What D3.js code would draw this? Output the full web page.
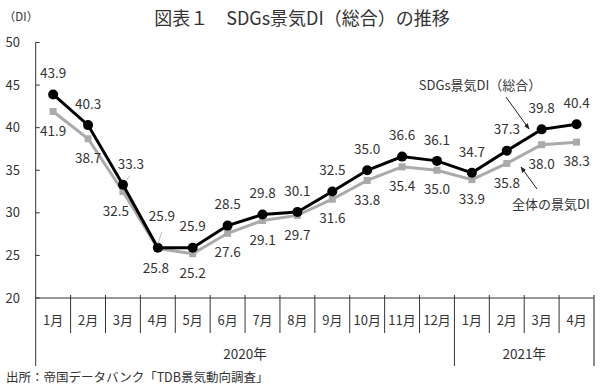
<!DOCTYPE html>
<html>
<head>
<meta charset="utf-8">
<script src="https://cdn.jsdelivr.net/npm/d3@7"></script>
<style>
  body { margin: 0; background: #fff; }
  text { font-family: "Noto Sans CJK JP", "Noto Sans", sans-serif; fill: #333; }
</style>
</head>
<body>
<div id="chart"></div>
<script>
// Chart data
const months = ["1月", "2月", "3月", "4月", "5月", "6月", "7月", "8月", "9月", "10月", "11月", "12月", "1月", "2月", "3月", "4月"];
const yearLabels = ["2020年", "2021年"];
const yearMonthCounts = [12, 4];
const sdgsDI = [43.9, 40.3, 33.3, 25.9, 25.9, 28.5, 29.8, 30.1, 32.5, 35.0, 36.6, 36.1, 34.7, 37.3, 39.8, 40.4];
const overallDI = [41.9, 38.7, 32.5, 25.8, 25.2, 27.6, 29.1, 29.7, 31.6, 33.8, 35.4, 35.0, 33.9, 35.8, 38.0, 38.3];
const yTicks = [20, 25, 30, 35, 40, 45, 50];

// Label nudges for crowded points (index -> [dx, dy])
const sdgsNudge = { 2: [8, 1], 3: [4, -10] };
const overallNudge = { 2: [-7, 0], 3: [-2, 0] };

const W = 600, H = 388;
const svg = d3.select("#chart")
    .append("svg")
    .attr("width", W)
    .attr("height", H);

const x = d3.scaleBand()
    .domain(d3.range(months.length))
    .range([35.7, 594]);

const y = d3.scaleLinear()
    .domain([20, 50])
    .range([298, 42.5]);

const cx = i => x(i) + x.bandwidth() / 2;
const axisColor = "#333";

// Title
svg.append("text")
    .attr("x", 302)
    .attr("y", 25)
    .attr("text-anchor", "middle")
    .style("font-size", "18px")
    .text("図表１　SDGs景気DI（総合）の推移");

svg.append("text")
    .attr("x", 21)
    .attr("y", 21)
    .attr("text-anchor", "middle")
    .style("font-size", "11.5px")
    .text("（DI）");

// Y axis
svg.append("line")
    .attr("x1", x.range()[0]).attr("x2", x.range()[0])
    .attr("y1", y(50)).attr("y2", 366)
    .attr("stroke", axisColor);

yTicks.forEach(t => {
    svg.append("line")
        .attr("x1", x.range()[0]).attr("x2", x.range()[0] + 4)
        .attr("y1", y(t)).attr("y2", y(t))
        .attr("stroke", axisColor);
    svg.append("text")
        .attr("x", 20)
        .attr("y", y(t))
        .attr("dy", "0.35em")
        .attr("text-anchor", "end")
        .style("font-size", "13px")
        .text(t);
});

// X axis line
svg.append("line")
    .attr("x1", x.range()[0]).attr("x2", x.range()[1])
    .attr("y1", y(20)).attr("y2", y(20))
    .attr("stroke", axisColor);

// Month separators and labels
const yearStarts = yearMonthCounts.map((c, k) => d3.sum(yearMonthCounts.slice(0, k)));
months.forEach((m, i) => {
    if (i > 0) {
        const isYear = yearStarts.includes(i);
        svg.append("line")
            .attr("x1", x(i)).attr("x2", x(i))
            .attr("y1", y(20) - 3).attr("y2", isYear ? 366 : 333)
            .attr("stroke", axisColor);
    }
    svg.append("text")
        .attr("x", cx(i))
        .attr("y", 320)
        .attr("dy", "0.35em")
        .attr("text-anchor", "middle")
        .style("font-size", "13px")
        .text(m);
});
svg.append("line")
    .attr("x1", x.range()[1]).attr("x2", x.range()[1])
    .attr("y1", y(20) - 3).attr("y2", 366)
    .attr("stroke", "#666")
    .attr("stroke-width", 1.5);

// Year labels
yearLabels.forEach((lab, k) => {
    const s = yearStarts[k], e = s + yearMonthCounts[k];
    svg.append("text")
        .attr("x", (x(s) + x(e - 1) + x.bandwidth()) / 2)
        .attr("y", 354)
        .attr("dy", "0.35em")
        .attr("text-anchor", "middle")
        .style("font-size", "13.5px")
        .text(lab);
});

// Source
svg.append("text")
    .attr("x", 6)
    .attr("y", 382)
    .style("font-size", "12.5px")
    .text("出所：帝国データバンク「TDB景気動向調査」");

const line = d3.line().x((d, i) => cx(i)).y(d => y(d));

// Overall DI (gray)
svg.append("path")
    .datum(overallDI)
    .attr("fill", "none")
    .attr("stroke", "#aaa")
    .attr("stroke-width", 3)
    .attr("d", line);

svg.selectAll(".sq")
    .data(overallDI)
    .enter()
    .append("rect")
    .attr("x", (d, i) => cx(i) - 3.5)
    .attr("y", d => y(d) - 3.5)
    .attr("width", 7)
    .attr("height", 7)
    .attr("fill", "#aaa");

// SDGs DI (black)
svg.append("path")
    .datum(sdgsDI)
    .attr("fill", "none")
    .attr("stroke", "#000")
    .attr("stroke-width", 3)
    .attr("d", line);

svg.selectAll(".dot")
    .data(sdgsDI)
    .enter()
    .append("circle")
    .attr("cx", (d, i) => cx(i))
    .attr("cy", d => y(d))
    .attr("r", 5)
    .attr("fill", "#000");

// Leader lines for nudged labels
svg.append("line")
    .attr("x1", cx(2) + 3).attr("y1", y(sdgsDI[2]) - 4)
    .attr("x2", cx(2) + 7).attr("y2", y(sdgsDI[2]) - 9)
    .attr("stroke", "#bbb");
svg.append("line")
    .attr("x1", cx(3)).attr("y1", y(sdgsDI[3]) - 4)
    .attr("x2", cx(3) + 4).attr("y2", y(sdgsDI[3]) - 16)
    .attr("stroke", "#bbb");

// Value labels
sdgsDI.forEach((v, i) => {
    const n = sdgsNudge[i] || [0, 0];
    svg.append("text")
        .attr("x", cx(i) + n[0])
        .attr("y", y(v) - 21 + n[1])
        .attr("dy", "0.35em")
        .attr("text-anchor", "middle")
        .style("font-size", "13.5px")
        .text(v.toFixed(1));
});
overallDI.forEach((v, i) => {
    const n = overallNudge[i] || [0, 0];
    svg.append("text")
        .attr("x", cx(i) + n[0])
        .attr("y", y(v) + 19.5 + n[1])
        .attr("dy", "0.35em")
        .attr("text-anchor", "middle")
        .style("font-size", "13.5px")
        .text(v.toFixed(1));
});

// Series callouts
svg.append("defs").append("marker")
    .attr("id", "arrow")
    .attr("viewBox", "0 0 10 10")
    .attr("refX", 9).attr("refY", 5)
    .attr("markerWidth", 6).attr("markerHeight", 6)
    .attr("orient", "auto")
    .append("path")
    .attr("d", "M0,1 L10,5 L0,9 Z")
    .attr("fill", "#222");

svg.append("text")
    .attr("x", 480)
    .attr("y", 85)
    .attr("dy", "0.35em")
    .attr("text-anchor", "middle")
    .style("font-size", "13px")
    .text("SDGs景気DI（総合）");
svg.append("line")
    .attr("x1", 506).attr("y1", 97)
    .attr("x2", 529).attr("y2", 129)
    .attr("stroke", "#222")
    .attr("marker-end", "url(#arrow)");

svg.append("text")
    .attr("x", 551)
    .attr("y", 204)
    .attr("dy", "0.35em")
    .attr("text-anchor", "middle")
    .style("font-size", "13px")
    .text("全体の景気DI");
svg.append("line")
    .attr("x1", 537).attr("y1", 189)
    .attr("x2", 521).attr("y2", 167)
    .attr("stroke", "#222")
    .attr("marker-end", "url(#arrow)");
</script>
</body>
</html>
